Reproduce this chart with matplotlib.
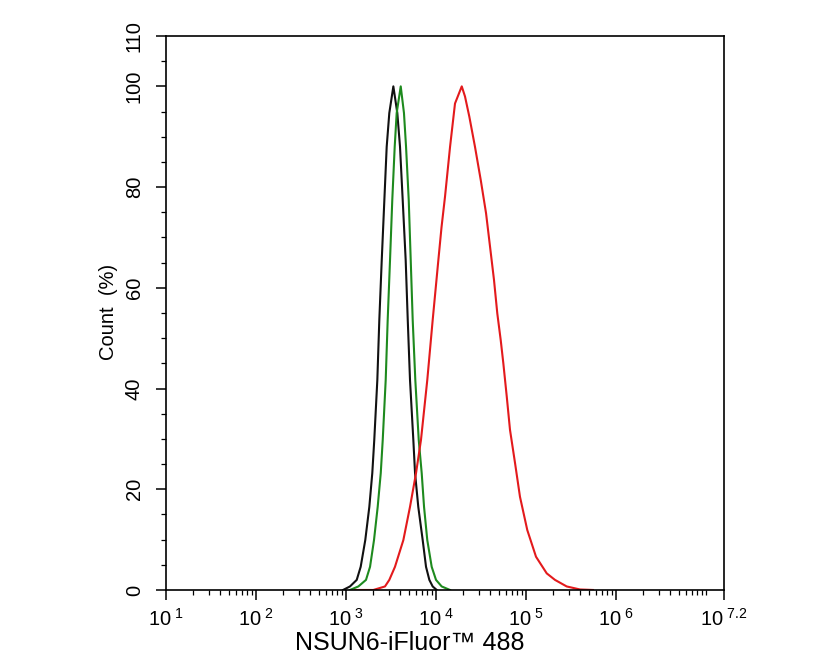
import numpy as np
import matplotlib.pyplot as plt
from matplotlib.ticker import FixedLocator, NullFormatter

plt.rcParams['font.family'] = ['Liberation Sans', 'DejaVu Sans']
plt.rcParams['mathtext.fontset'] = 'custom'
plt.rcParams['mathtext.rm'] = 'Liberation Sans'
plt.rcParams['mathtext.default'] = 'regular'

# log10 intensitate si procent
negru_log = [2.967, 3.044, 3.119, 3.163, 3.214, 3.259, 3.292, 3.314, 3.348, 3.370,
             3.397, 3.426, 3.452, 3.481, 3.526, 3.570, 3.600, 3.630, 3.663, 3.686,
             3.711, 3.748, 3.767, 3.803, 3.852, 3.889, 3.926, 3.963, 4.008]
negru_pct = [0, 0.7, 2, 4.6, 9.9, 16.5, 23.2, 29.8, 41.7, 53.6,
             65.5, 77.4, 88, 94.7, 100, 94.7, 88, 77.4, 65.5, 53.6,
             41.7, 29.8, 23.2, 16.5, 9.9, 4.6, 2, 0.7, 0]

verde_log = [3.044, 3.137, 3.222, 3.267, 3.311, 3.352, 3.386, 3.408, 3.441, 3.463,
             3.489, 3.514, 3.541, 3.563, 3.608, 3.644, 3.667, 3.697, 3.719, 3.741,
             3.770, 3.808, 3.841, 3.867, 3.903, 3.952, 4.000, 4.063, 4.156]
verde_pct = [0, 0.7, 2, 4.6, 9.9, 16.5, 23.2, 29.8, 41.7, 53.6,
             65.5, 77.4, 88, 94.7, 100, 94.7, 88, 77.4, 65.5, 53.6,
             41.7, 29.8, 23.2, 16.5, 9.9, 4.6, 2, 0.7, 0]

rosu_log = [3.100, 3.303, 3.433, 3.481, 3.544, 3.637, 3.711, 3.778, 3.833, 3.903,
            3.963, 4.026, 4.061, 4.100, 4.156, 4.211, 4.286, 4.322, 4.370, 4.433,
            4.497, 4.556, 4.600, 4.644, 4.681, 4.719, 4.748, 4.786, 4.822, 4.878,
            4.933, 5.014, 5.111, 5.230, 5.322, 5.452, 5.600, 5.744]
rosu_pct = [0, 0, 0.7, 2, 4.6, 9.9, 16.5, 23.2, 29.8, 41.7,
            53.6, 65.5, 72, 78.1, 88, 96.6, 100, 98, 94, 88,
            81.4, 74.8, 68.2, 61.6, 54.9, 49.6, 45, 38.4, 31.8, 25.2,
            18.5, 11.9, 6.6, 3.3, 2, 0.7, 0.1, 0]

x_major = [1, 2, 3, 4, 5, 6, 7.2]
x_labels = ['1', '2', '3', '4', '5', '6', '7.2']
y_major = [0, 20, 40, 60, 80, 100, 110]

fig = plt.figure(figsize=(8.35, 6.68), dpi=100)
ax = fig.add_axes([0.1988, 0.1168, 0.6683, 0.8293])

ax.plot(10 ** np.array(negru_log), negru_pct, color='#111111', lw=1.5)
ax.plot(10 ** np.array(verde_log), verde_pct, color='#1e8a1e', lw=1.5)
ax.plot(10 ** np.array(rosu_log), rosu_pct, color='#e31a1c', lw=1.5)

ax.set_xscale('log')
ax.set_xlim(10 ** 1, 10 ** 7.2)
ax.set_ylim(0, 110)

ax.xaxis.set_major_locator(FixedLocator([10 ** v for v in x_major]))
ax.set_xticklabels([r'$10^{\;' + s + '}$' for s in x_labels], fontsize=14.5)
minore = [m * 10 ** d for d in range(1, 7) for m in range(2, 10)] + [1e7]
ax.xaxis.set_minor_locator(FixedLocator(minore))
ax.xaxis.set_minor_formatter(NullFormatter())

ax.yaxis.set_major_locator(FixedLocator(y_major))
ax.set_yticklabels([str(v) for v in y_major], fontsize=14.5, rotation=90, va='center')
ax.yaxis.set_minor_locator(FixedLocator([v for v in range(5, 110, 5) if v not in y_major]))

ax.tick_params(axis='both', which='major', direction='out', length=7, width=1.1, pad=6)
ax.tick_params(axis='y', which='major', pad=9)
ax.tick_params(axis='both', which='minor', direction='out', length=3.5, width=0.9)
for s in ax.spines.values():
    s.set_linewidth(1.2)

fig.text(108 / 835, 1 - 312 / 668, 'Count  (%)', fontsize=14.5, rotation=90,
         ha='center', va='center')
fig.text(410 / 835, 1 - 643 / 668, 'NSUN6-iFluor™ 488', fontsize=18,
         ha='center', va='center')

plt.savefig('out.png', dpi=100)
